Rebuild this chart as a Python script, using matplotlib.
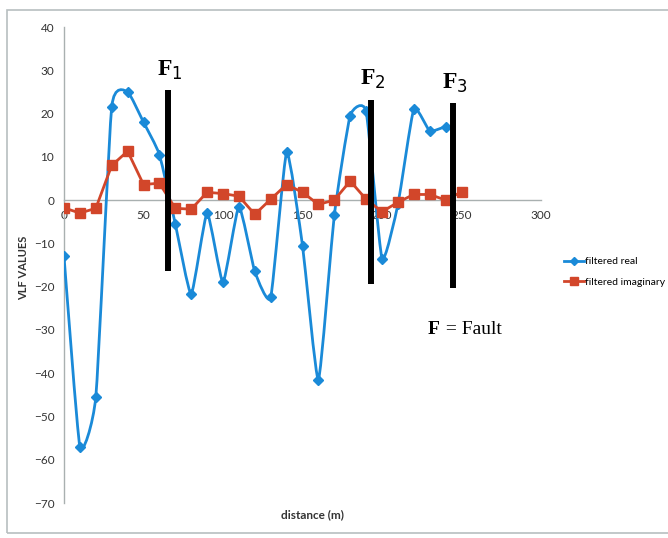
import matplotlib
matplotlib.use('Agg')
import matplotlib.pyplot as plt
import numpy as np
from matplotlib.path import Path
from matplotlib.patches import PathPatch, Rectangle
from matplotlib.lines import Line2D

# readings every 10 m
dist_real = [0, 10, 20, 30, 40, 50, 60, 70, 80, 90, 100, 110, 120,
             130, 140, 150, 160, 170, 180, 190, 200, 210, 220, 230, 240]
filtered_real = [-13, -57, -45.5, 21.5, 25, 18, 10.5, -5.5, -21.7, -3, -19,
                 -1.5, -16.5, -22.5, 11, -10.5, -41.5, -3.5, 19.5, 20.5,
                 -13.5, -1, 21, 16, 17]

dist_imag = [0, 10, 20, 30, 40, 50, 60, 70, 80, 90, 100, 110, 120, 130,
             140, 150, 160, 170, 180, 190, 200, 210, 220, 230, 240, 250]
filtered_imag = [-1.8, -3, -1.9, 8, 11.3, 3.6, 3.9, -1.9, -2.1, 1.8, 1.5,
                 0.9, -3.3, 0.2, 3.6, 1.8, -1, 0, 4.4, 0.2, -2.7, -0.5,
                 1.3, 1.3, 0, 1.9]

# fault positions (x, top, bottom) and labels
fault_x = [65.4, 193, 244.7]
fault_top = [25.4, 23.1, 22.4]
fault_bottom = [-16.4, -19.4, -20.3]
fault_labels = ['F$_1$', 'F$_2$', 'F$_3$']

x_ticks = [0, 50, 100, 150, 200, 250, 300]
y_ticks = [40, 30, 20, 10, 0, -10, -20, -30, -40, -50, -60, -70]

BLUE = '#1a8ad8'
RED = '#d2462a'
sans = ['Lato', 'DejaVu Sans']


# smooth line like excel does (bezier through the points)
def smooth_path(xs, ys, k=0.08):
    pts = np.column_stack([xs, ys]).astype(float)
    verts = [pts[0]]
    codes = [Path.MOVETO]
    n = len(pts)
    for i in range(n - 1):
        p0 = pts[i - 1] if i > 0 else pts[i]
        p1 = pts[i]
        p2 = pts[i + 1]
        p3 = pts[i + 2] if i + 2 < n else pts[i + 1]
        c1 = p1 + (p2 - p0) * k
        c2 = p2 - (p3 - p1) * k
        verts += [c1, c2, p2]
        codes += [Path.CURVE4] * 3
    return Path(verts, codes)


fig = plt.figure(figsize=(6.68, 5.38), dpi=100)
ax = fig.add_axes([64 / 668, 35 / 538, 477 / 668, 476 / 538])
ax.set_xlim(0, 300)
ax.set_ylim(-70, 40)

# frame around the whole chart
fig.patches.append(Rectangle((7 / 668, 5 / 538), 1.05, 523 / 538,
                             transform=fig.transFigure, fill=False,
                             edgecolor='#b8bfc0', linewidth=1.2))

ax.add_patch(PathPatch(smooth_path(dist_real, filtered_real), fill=False,
                       edgecolor=BLUE, linewidth=2.0, zorder=3))
ax.plot(dist_real, filtered_real, linestyle='none', marker='D',
        markersize=5, color=BLUE, zorder=4)
ax.plot(dist_imag, filtered_imag, color=RED, linewidth=2.0, marker='s',
        markersize=6.5, zorder=4)

for fx, ft, fb, lab in zip(fault_x, fault_top, fault_bottom, fault_labels):
    ax.plot([fx, fx], [fb, ft], color='black', linewidth=4.3,
            solid_capstyle='butt', zorder=6, clip_on=False)
    ax.text(fx + 1, ft + 2, lab, ha='center', va='bottom', fontsize=17,
            fontweight='bold', family='Liberation Serif', zorder=6)

ax.spines['top'].set_visible(False)
ax.spines['right'].set_visible(False)
ax.spines['bottom'].set_position(('data', 0))
for s in ['left', 'bottom']:
    ax.spines[s].set_color('#a9b0b0')
    ax.spines[s].set_linewidth(1.0)

ax.set_xticks(x_ticks)
ax.set_yticks(y_ticks)
ax.tick_params(length=0, labelsize=8.5, colors='#333333', pad=7)
for lbl in ax.get_xticklabels() + ax.get_yticklabels():
    lbl.set_family(sans)

fig.text(24 / 668, 1 - 268 / 538, 'VLF VALUES', rotation=90, ha='center',
         va='center', fontsize=8, fontweight='bold', family=sans,
         color='#333333')
fig.text(312 / 668, 1 - 515 / 538, 'distance (m)', ha='center', va='center',
         fontsize=8.5, fontweight='bold', family=sans, color='#333333')

handles = [Line2D([], [], color=BLUE, marker='D', markersize=4.5, linewidth=2),
           Line2D([], [], color=RED, marker='s', markersize=6, linewidth=2)]
fig.legend(handles, ['filtered real', 'filtered imaginary'],
           loc='center left', bbox_to_anchor=(564 / 668, 1 - 272 / 538),
           frameon=False, handlelength=1.9, handletextpad=0.15,
           borderpad=0, borderaxespad=0, labelspacing=1.1,
           prop={'family': sans, 'size': 7.5})

fig.text(428 / 668, 1 - 329 / 538, 'F', ha='left', va='center', fontsize=14,
         fontweight='bold', family='Liberation Serif')
fig.text(441 / 668, 1 - 329 / 538, ' = Fault', ha='left', va='center',
         fontsize=14, family='Liberation Serif')

fig.savefig('out.png', dpi=100)
